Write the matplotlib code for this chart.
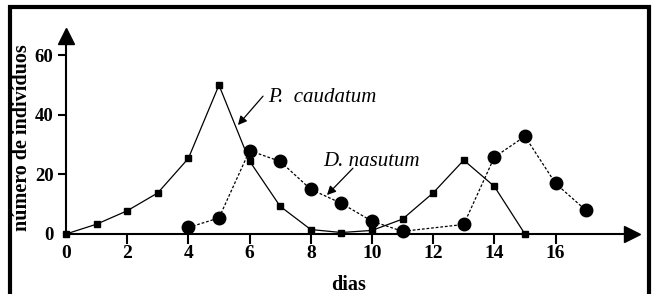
import matplotlib
matplotlib.use("Agg")
import matplotlib.pyplot as plt
from matplotlib.patches import Rectangle

plt.rcParams['font.family'] = ['Liberation Serif', 'DejaVu Serif']

# dados
dias_p = [0, 1, 2, 3, 4, 5, 6, 7, 8, 9, 10, 11, 12, 13, 14, 15]
p_caudatum = [0, 3.3, 7.8, 13.8, 25.4, 50, 24.5, 9.3, 1.5, 0.5, 1.2, 5, 13.8, 24.8, 16, 0]

dias_d = [4, 5, 6, 7, 8, 9, 10, 11, 13, 14, 15, 16, 17]
d_nasutum = [2.2, 5.4, 28, 24.4, 15, 10.3, 4.3, 0.9, 3.2, 25.8, 32.8, 17, 7.9]

xticks = [0, 2, 4, 6, 8, 10, 12, 14, 16]
yticks = [0, 20, 40, 60]

W, H = 655, 294
fig = plt.figure(figsize=(W / 100, H / 100), dpi=100)

# moldura
fig.patches.append(Rectangle((10 / W, -0.05), (649 - 10) / W, 1.05 - 7 / H,
                             transform=fig.transFigure, fill=False,
                             edgecolor='black', linewidth=3))

ax = fig.add_axes([66 / W, (H - 234) / H, (632 - 66) / W, (234 - 36) / H])
ax.set_xlim(0, 18.5)
ax.set_ylim(0, 66.5)

ax.plot(dias_p, p_caudatum, color='black', lw=0.9, marker='s', ms=4.5,
        clip_on=False)
ax.plot(dias_d, d_nasutum, color='black', lw=0.9, ls=(0, (2.2, 1.5)),
        marker='o', ms=9, clip_on=False)

for s in ['top', 'right']:
    ax.spines[s].set_visible(False)
for s in ['left', 'bottom']:
    ax.spines[s].set_linewidth(1.5)

# setas nos eixos
ax.plot(1, 0, '>k', ms=11, transform=ax.transAxes, clip_on=False)
ax.plot(0, 1, '^k', ms=11, transform=ax.transAxes, clip_on=False)

ax.set_xticks(xticks)
ax.set_yticks(yticks)
ax.tick_params(axis='x', length=7, width=1.5, pad=1, labelsize=14)
ax.tick_params(axis='y', length=6, width=1.5, pad=3, labelsize=13.5)
for lab in ax.get_xticklabels() + ax.get_yticklabels():
    lab.set_fontweight('bold')
ax.xaxis.get_major_ticks()[0].tick1line.set_visible(False)
ax.yaxis.get_major_ticks()[0].tick1line.set_visible(False)

ax.set_xlabel('dias', fontsize=14.5, fontweight='bold', labelpad=9)
ax.set_ylabel('número de indivíduos', fontsize=14.5, fontweight='bold')
ax.yaxis.label.set_va('center')
ax.yaxis.set_label_coords(-0.078, 0.485)

ax.text(6.6, 46, 'P.  caudatum', fontsize=15, style='italic',
        va='center', ha='left')
ax.text(8.4, 24.2, 'D. nasutum', fontsize=15, style='italic',
        va='center', ha='left')
arrow = dict(arrowstyle='-|>', color='black', lw=0.9,
             shrinkA=0, shrinkB=0, mutation_scale=13)
ax.annotate('', xy=(5.62, 36.6), xytext=(6.44, 46.3), arrowprops=arrow)
ax.annotate('', xy=(8.53, 13.1), xytext=(9.38, 22.1), arrowprops=arrow)

fig.savefig('out.png', dpi=100)
